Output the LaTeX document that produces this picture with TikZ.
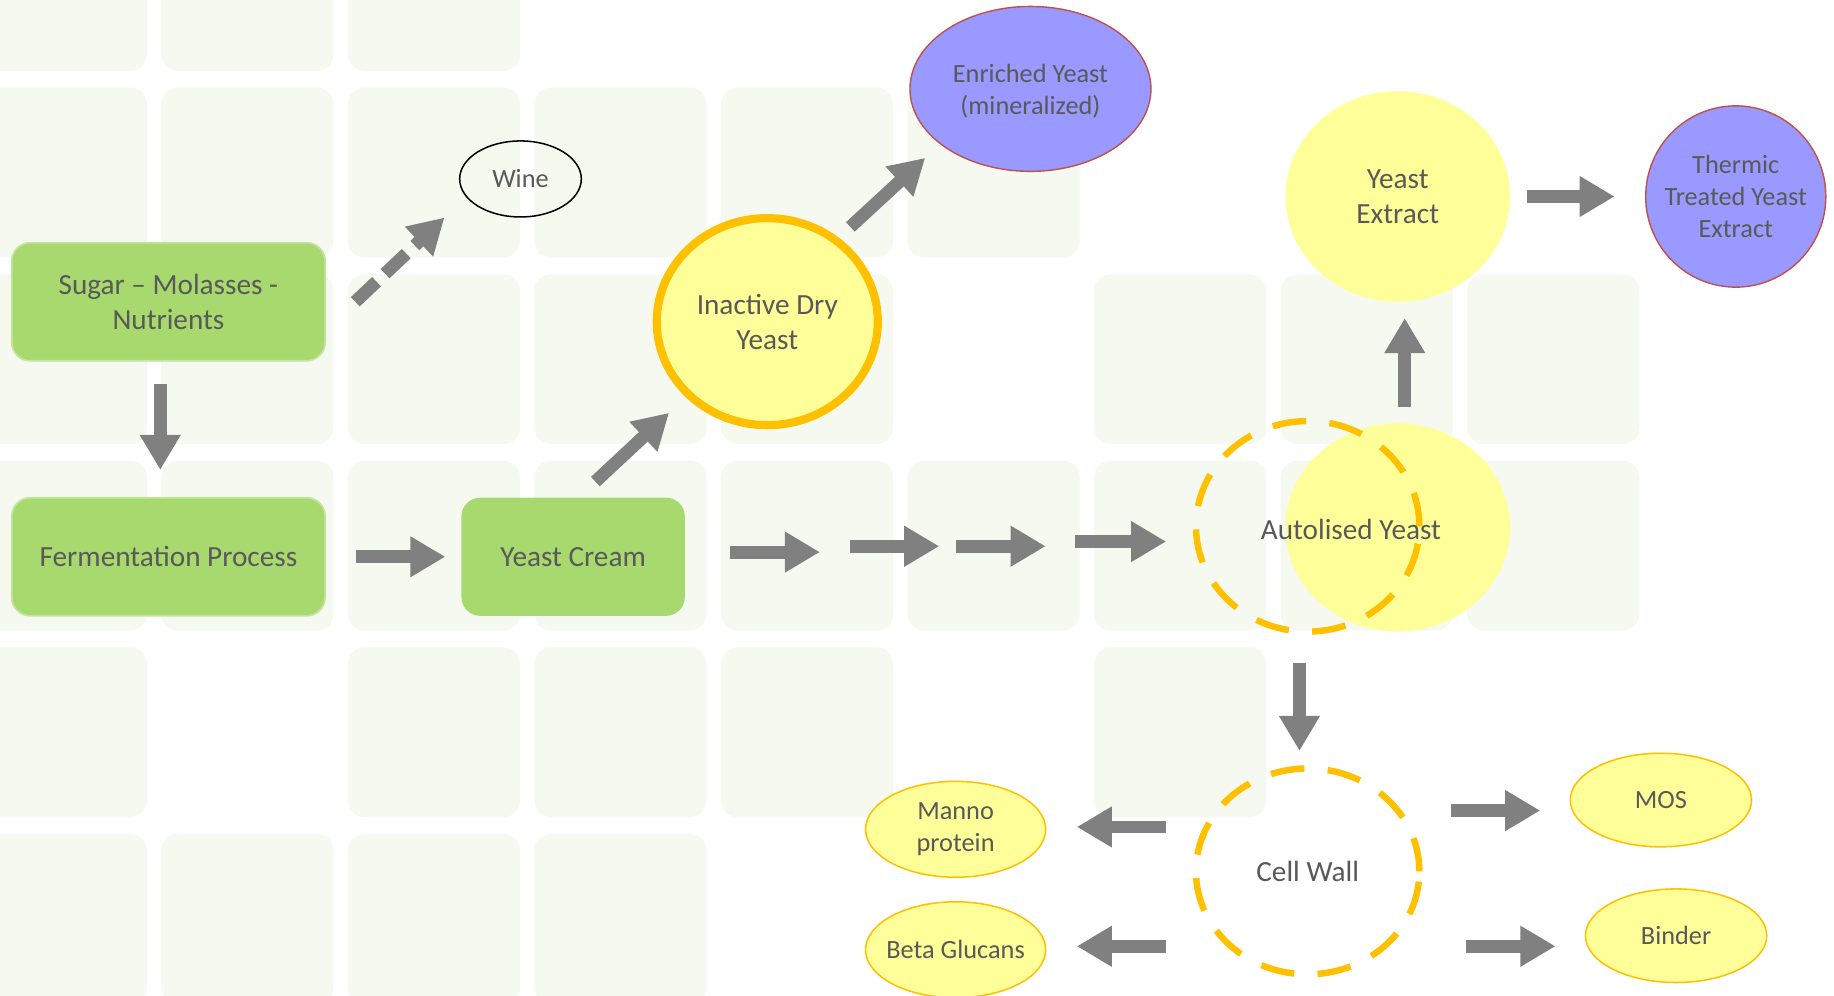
\documentclass[tikz,border=0pt]{standalone}
\usepackage{fontspec}
\setmainfont{Carlito}
\usetikzlibrary{arrows.meta,shapes.geometric,calc}
\definecolor{txt}{RGB}{89,89,89}
\definecolor{gfill}{RGB}{168,217,110}
\definecolor{gline}{RGB}{196,229,160}
\definecolor{yfill}{RGB}{255,255,153}
\definecolor{orng}{RGB}{255,192,0}
\definecolor{bfill}{RGB}{153,153,255}
\definecolor{rline}{RGB}{192,80,77}
\definecolor{agray}{RGB}{128,128,128}
\definecolor{cellc}{RGB}{245,249,239}
\begin{document}
\begin{tikzpicture}[x=1pt,y=-1pt,
  cellbox/.style={fill=cellc, rounded corners=14pt},
  gbox/.style={rectangle, rounded corners=16pt, fill=gfill, draw=gline, line width=1.5pt, text=txt, align=center, font=\fontsize{25}{30}\selectfont, inner sep=0pt},
  bigt/.style={font=\fontsize{25}{30}\selectfont, text=txt, align=center},
  smt/.style={font=\fontsize{22.5}{27.5}\selectfont, text=txt, align=center},
  ell/.style={ellipse, inner sep=0pt},
  dashring/.style={draw=orng, line width=5.5pt, dash pattern=on 29pt off 20pt},
  blk/.style={draw=agray, line width=11pt, -{Triangle[length=30pt,width=33pt]}},
]
\useasboundingbox (0,0) rectangle (1568,851);
\fill[white] (0,0) rectangle (1568,851);
% background cells
\foreach \c/\r in {0/0,1/0,2/0,
  0/1,1/1,2/1,3/1,4/1,5/1,
  0/2,1/2,2/2,3/2,4/2,6/2,7/2,8/2,
  0/3,1/3,2/3,3/3,4/3,5/3,6/3,7/3,8/3,
  0/4,2/4,3/4,4/4,6/4,
  0/5,1/5,2/5,3/5}
  \fill[cellbox] ({-21.5+159.5*\c},{-84.5+159.5*\r}) rectangle ++(147,145);

% nodes
\node[gbox, minimum width=268pt, minimum height=101pt] (sugar) at (144,258) {Sugar – Molasses -\\Nutrients};
\node[gbox, minimum width=268pt, minimum height=101pt] (ferm) at (144,476) {Fermentation Process};
\node[gbox, draw=none, minimum width=191pt, minimum height=101pt] (cream) at (490,476) {Yeast Cream};
\node[ell, draw=black, line width=1.3pt, minimum width=104pt, minimum height=65pt, label={[smt]center:Wine}] (wine) at (445,153) {};
\node[ell, fill=yfill, draw=orng, line width=7pt, minimum width=189pt, minimum height=177pt, label={[bigt]center:Inactive Dry\\Yeast}] (idy) at (656,275) {};
\node[ell, fill=bfill, draw=rline, line width=1.2pt, minimum width=206pt, minimum height=141pt, label={[smt, yshift=-2pt]center:Enriched Yeast\\(mineralized)}] (enr) at (881,76) {};
\node[ell, fill=yfill, minimum width=192pt, minimum height=180pt, label={[bigt]center:Yeast\\Extract}] (ye) at (1195,168) {};
\node[ell, fill=bfill, draw=rline, line width=1.2pt, minimum width=154pt, minimum height=155pt, label={[smt]center:Thermic\\Treated Yeast\\Extract}] (thermic) at (1484,168) {};
\node[ell, fill=yfill, minimum width=192pt, minimum height=178pt] (auto) at (1195,451) {};
\node[ell, dashring, minimum width=191pt, minimum height=180pt] (autod) at (1118,450) {};
\node[bigt] (autot) at (1155,453) {Autolised Yeast};
\node[ell, dashring, minimum width=191pt, minimum height=176pt, label={[bigt]center:Cell Wall}] (cell) at (1118,745) {};
\node[ell, fill=yfill, draw=orng, line width=1.3pt, minimum width=154pt, minimum height=82pt, label={[smt]center:Manno\\protein}] (manno) at (817,709) {};
\node[ell, fill=yfill, draw=orng, line width=1.3pt, minimum width=154pt, minimum height=82pt, label={[smt]center:Beta Glucans}] (beta) at (817,812) {};
\node[ell, fill=yfill, draw=orng, line width=1.3pt, minimum width=155pt, minimum height=80pt, label={[smt]center:MOS}] (mos) at (1420,684) {};
\node[ell, fill=yfill, draw=orng, line width=1.3pt, minimum width=155pt, minimum height=80pt, label={[smt]center:Binder}] (binder) at (1433,800) {};

% chain coordinates
\coordinate (ch1a) at (624,472); \coordinate (ch1b) at (701,472);
\coordinate (ch2a) at (727,467); \coordinate (ch2b) at (803,467);
\coordinate (ch3a) at (817,467); \coordinate (ch3b) at (894,467);
\coordinate (ch4a) at (919,463); \coordinate (ch4b) at (997,463);

% arrows
\draw[blk] ([xshift=-7pt,yshift=-19pt]sugar.south) -- ([xshift=-7pt,yshift=23pt]ferm.north);
\draw[blk, dash pattern=on 25pt off 10pt] ([xshift=25pt]sugar.east) -- ([xshift=-65pt,yshift=-33pt]wine.center);
\draw[blk] ([xshift=26pt]ferm.east) -- ([xshift=-13pt]cream.west);
\draw[blk] ([xshift=19pt,yshift=13pt]cream.north) -- ([xshift=-84pt,yshift=-78pt]idy.center);
\draw[blk] ([xshift=71pt,yshift=81pt]idy.center) -- ([xshift=-90pt,yshift=-59pt]enr.center);
\draw[blk] (ch1a) -- (ch1b);
\draw[blk] (ch2a) -- (ch2b);
\draw[blk] (ch3a) -- (ch3b);
\draw[blk] (ch4a) -- (ch4b);
\draw[blk] ([xshift=6pt,yshift=103pt]auto.center) -- ([xshift=6pt,yshift=-104pt]ye.center);
\draw[blk] ([xshift=14pt]ye.east) -- ([xshift=-26pt]thermic.west);
\draw[blk] ([xshift=-7pt,yshift=-117pt]autod.center) -- ([xshift=-7pt,yshift=103pt]cell.center);
\draw[blk] ([xshift=-23pt,yshift=38pt]cell.west) -- ([xshift=26pt,yshift=2pt]manno.east);
\draw[blk] ([xshift=-23pt,yshift=-64pt]cell.west) -- ([xshift=26pt,yshift=3pt]beta.east);
\draw[blk] ([xshift=24pt,yshift=52pt]cell.east) -- ([xshift=-25pt,yshift=-9pt]mos.west);
\draw[blk] ([xshift=37pt,yshift=-64pt]cell.east) -- ([xshift=-25pt,yshift=-9pt]binder.west);
\end{tikzpicture}
\end{document}
